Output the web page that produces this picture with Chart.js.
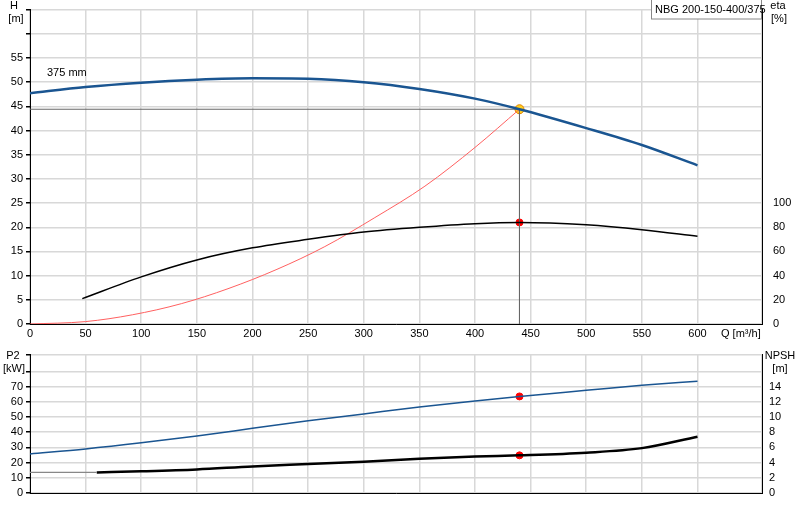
<!DOCTYPE html><html><head><meta charset="utf-8">
<script src="https://cdn.jsdelivr.net/npm/chart.js@4"></script>
<style>body{margin:0;background:#fff;font-family:Arial,"Liberation Sans",sans-serif}
#c1{position:absolute;left:0;top:0}#c2{position:absolute;left:0;top:345px}</style></head><body>
<canvas id="c1" width="800" height="345"></canvas>
<canvas id="c2" width="800" height="175"></canvas>
<script>
const qH=[0,50,100,150,200,250,300,350,400,440,500,550,600];
const H=[47.7,49.0,49.9,50.5,50.8,50.7,50.0,48.6,46.6,44.4,40.5,37.0,32.8];
const qEta=[47,100,150,200,250,300,350,400,440,500,550,600];
const eta=[21,39,53,63,70,76,80,83,84,82,78,72.5];
const qSys=[0,50,92,136,178,222,265,310,355,400,440];
const Hsys=[0,0.5,1.9,4.2,7.3,11.3,16,22,28.5,36.5,44.4];
const qP2=[0,50,100,150,200,250,300,350,400,440,500,550,600];
const P2=[25.7,29,33,37.5,42.5,47.5,52,56.5,60.5,63.5,67.5,70.8,73.5];
const qN=[60,100,150,200,250,300,350,400,440,500,550,600];
const NPSH=[2.7,2.85,3.1,3.5,3.8,4.1,4.5,4.8,4.95,5.3,5.9,7.4];
const Qop=440,Hop=44.4,etaOp=84,P2op=63.5,Nop=4.95;
const xy=(xs,ys,f=1)=>xs.map((x,i)=>({x,y:ys[i]*f}));
const F={family:'Arial, "Liberation Sans"',size:11};
const grid={color:'#d8d8d8',lineWidth:1.5};
const fit=w=>a=>{a.width=w};
const textPlug=(items)=>({id:'t',afterDraw(c){const g=c.ctx;g.save();g.font='11px Arial, "Liberation Sans"';g.fillStyle='#000';items(c,g);g.restore();}});
new Chart(document.getElementById('c1'),{type:'scatter',data:{datasets:[
{data:xy(qH,H),borderColor:'#1a5591',borderWidth:2.5,showLine:true,pointRadius:0,cubicInterpolationMode:'monotone'},
{data:xy(qEta,eta),yAxisID:'y2',borderColor:'#000',borderWidth:1.5,showLine:true,pointRadius:0,cubicInterpolationMode:'monotone'},
{data:xy(qSys,Hsys),borderColor:'#ff6060',borderWidth:1,showLine:true,pointRadius:0,cubicInterpolationMode:'monotone'},
{data:[{x:0,y:Hop},{x:Qop,y:Hop},{x:Qop,y:0}],borderColor:'#666',borderWidth:1,showLine:true,pointRadius:0},
{data:[{x:Qop,y:etaOp}],yAxisID:'y2',pointRadius:3.5,backgroundColor:'#f00',borderColor:'#f00'},
{data:[{x:Qop,y:Hop}],pointRadius:4.5,backgroundColor:'#ffd020',borderColor:'#e08000',borderWidth:1}
]},options:{animation:false,responsive:false,devicePixelRatio:1,plugins:{legend:{display:false},tooltip:{enabled:false}},
layout:{padding:0},
scales:{x:{type:'linear',min:0,max:658,afterFit:a=>{a.height=21},ticks:{stepSize:50,autoSkip:false,maxRotation:0,font:F,color:'#000',callback:v=>v<=600?v:''},grid:{...grid,tickLength:0},border:{color:'#000'}},
y:{min:0,max:65,afterFit:fit(30),ticks:{stepSize:5,autoSkip:false,font:F,color:'#000',callback:v=>v<=55?v:''},grid:{...grid,tickColor:'#000',tickLength:4},border:{color:'#000'}},
y2:{position:'right',min:0,max:260,afterFit:fit(38),ticks:{stepSize:20,autoSkip:false,font:F,color:'#000',callback:v=>v<=100?v:''},grid:{display:false},border:{color:'#000'}}}}
,plugins:[textPlug((c,g)=>{g.textAlign='center';g.fillText('H',14,9);g.fillText('[m]',16,22);g.fillText('eta',778,9);g.fillText('[%]',779,22);
g.textAlign='left';g.fillText('375 mm',47,76);g.fillText('Q [m³/h]',721,337);
g.fillStyle='#fff';g.fillRect(651,0,110,19);g.strokeStyle='#888';g.strokeRect(651.5,-1,110,20);g.fillStyle='#000';g.fillText('NBG 200-150-400/375',655,13);})]});
new Chart(document.getElementById('c2'),{type:'scatter',data:{datasets:[
{data:xy(qP2,P2),borderColor:'#1a5591',borderWidth:1.5,showLine:true,pointRadius:0,cubicInterpolationMode:'monotone'},
{data:[{x:0,y:NPSH[0]*5},{x:qN[0],y:NPSH[0]*5}],borderColor:'#888',borderWidth:1.2,showLine:true,pointRadius:0},
{data:xy(qN,NPSH,5),borderColor:'#000',borderWidth:2.5,showLine:true,pointRadius:0,cubicInterpolationMode:'monotone'},
{data:[{x:Qop,y:P2op},{x:Qop,y:Nop*5}],pointRadius:3.5,backgroundColor:'#f00',borderColor:'#f00'}
]},options:{animation:false,responsive:false,devicePixelRatio:1,plugins:{legend:{display:false},tooltip:{enabled:false}},
layout:{padding:{top:5}},
scales:{x:{type:'linear',min:0,max:658,afterFit:a=>{a.height=27},ticks:{stepSize:50,autoSkip:false,display:false},grid:{...grid,tickLength:0},border:{color:'#000'}},
y:{min:0,max:91,afterFit:fit(30),ticks:{stepSize:10,autoSkip:false,font:F,color:'#000',callback:v=>v<=70?v:''},grid:{...grid,tickColor:'#000',tickLength:4},border:{color:'#000'}},
y2:{position:'right',min:0,max:18.2,afterFit:fit(38),ticks:{stepSize:2,autoSkip:false,font:F,color:'#000',callback:v=>v<=14?v:''},grid:{display:false,tickLength:4},border:{color:'#000'}}}}
,plugins:[textPlug((c,g)=>{g.textAlign='center';g.fillText('P2',13,14);g.fillText('[kW]',14,27);g.fillText('NPSH',780,14);g.fillText('[m]',780,27);})]});
</script></body></html>
